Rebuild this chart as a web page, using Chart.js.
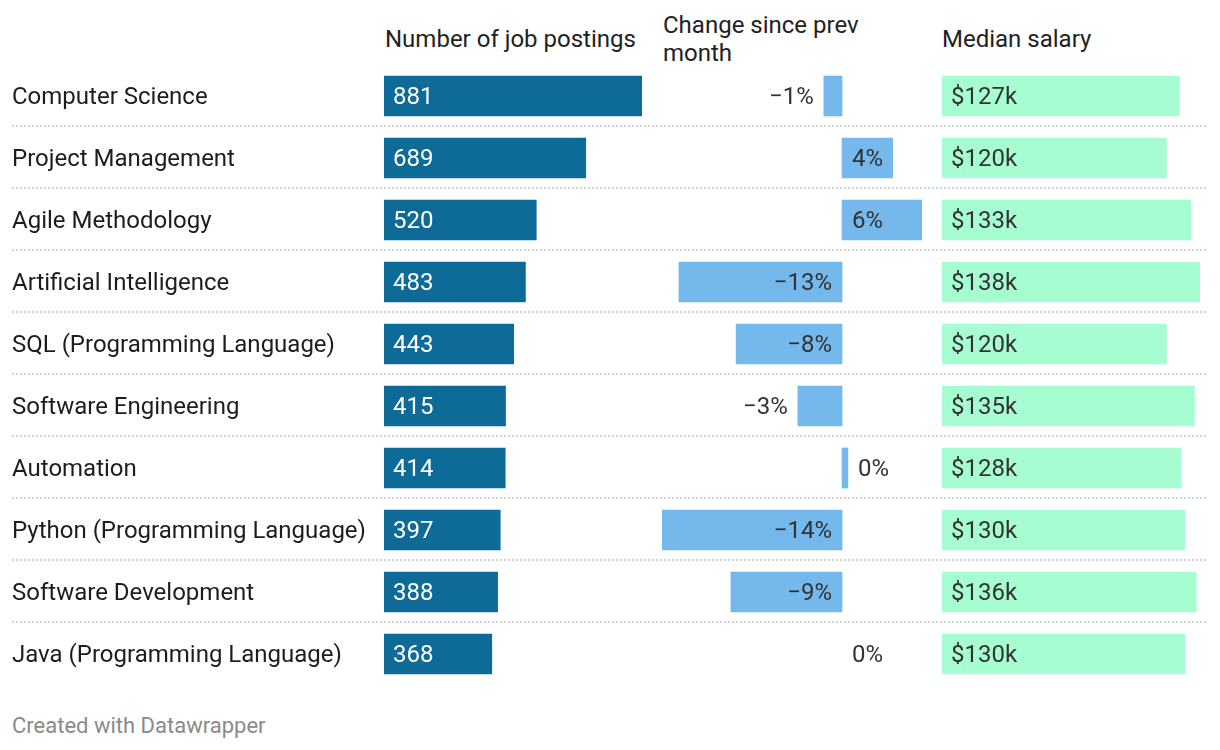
<!DOCTYPE html>
<html>
<head>
<meta charset="utf-8">
<script src="https://cdn.jsdelivr.net/npm/chart.js@4.4.1/dist/chart.umd.min.js"></script>
<style>
  html, body { margin: 0; padding: 0; background: #ffffff; }
  body { width: 1220px; height: 750px; position: relative; overflow: hidden; font-family: Roboto, "Noto Sans", sans-serif; }
  canvas { position: absolute; top: 0; }
  .hdr { position: absolute; font-size: 24px; line-height: 28px; color: #222222; white-space: nowrap; }
  #foot { position: absolute; left: 12px; top: 712px; font-size: 22px; line-height: 28px; color: #8a8a8a; }
</style>
</head>
<body>
<div class="hdr" style="left:385px; top:25px;">Number of job postings</div>
<div class="hdr" style="left:663px; top:11px;">Change since prev<br>month</div>
<div class="hdr" style="left:942px; top:25px;">Median salary</div>
<div id="foot">Created with Datawrapper</div>

<canvas id="cJobs" width="652" height="750" style="left:0px;"></canvas>
<canvas id="cChange" width="280" height="750" style="left:652px;"></canvas>
<canvas id="cSalary" width="288" height="750" style="left:932px;"></canvas>

<script>
// ---- data ----
const skills = [
  "Computer Science",
  "Project Management",
  "Agile Methodology",
  "Artificial Intelligence",
  "SQL (Programming Language)",
  "Software Engineering",
  "Automation",
  "Python (Programming Language)",
  "Software Development",
  "Java (Programming Language)"
];
const jobPostings = [881, 689, 520, 483, 443, 415, 414, 397, 388, 368];
const changePct = [-1.4, 3.9, 6.15, -12.55, -8.15, -3.4, 0.45, -13.85, -8.55, 0];
const medianSalaryK = [127, 120, 133, 138, 120, 135, 128, 130, 136, 130];

// ---- styling ----
const FONT = "Roboto, 'Noto Sans', sans-serif";
const ROW_TOP = 65, ROW_BOTTOM = 65;

const fmtJobs = v => String(v);
const fmtChange = v => { const r = Math.round(v); return (r < 0 ? "\u2212" + Math.abs(r) : String(Math.abs(r))) + "%"; };
const fmtSalary = v => "$" + v + "k";

const separatorPlugin = {
  id: "separators",
  beforeDatasetsDraw(chart, args, opts) {
    const y = chart.scales.y, ctx = chart.ctx;
    ctx.save();
    ctx.strokeStyle = "#d2d2d2";
    ctx.lineWidth = 2;
    ctx.setLineDash([2, 2]);
    for (let i = 0; i < chart.data.labels.length - 1; i++) {
      const yy = Math.round((y.getPixelForValue(i) + y.getPixelForValue(i + 1)) / 2) - 1;
      ctx.beginPath();
      ctx.moveTo(opts.x0, yy);
      ctx.lineTo(opts.x1, yy);
      ctx.stroke();
    }
    ctx.restore();
  }
};

const valueLabelPlugin = {
  id: "valueLabels",
  afterDatasetsDraw(chart, args, opts) {
    const ctx = chart.ctx;
    const meta = chart.getDatasetMeta(0);
    const vals = chart.data.datasets[0].data;
    ctx.save();
    ctx.font = "24px " + FONT;
    ctx.textBaseline = "middle";
    meta.data.forEach((bar, i) => {
      const txt = opts.format(vals[i]);
      const w = ctx.measureText(txt).width;
      const pad = 10;
      const yy = bar.y + 2;
      ctx.fillStyle = opts.color;
      if (opts.mode === "inside-left") {
        ctx.textAlign = "left";
        ctx.fillText(txt, bar.base + 9, yy);
      } else {
        const barW = Math.abs(bar.x - bar.base);
        const fits = w + 2 * pad <= barW + 1;
        if (vals[i] < 0) {
          ctx.textAlign = "right";
          ctx.fillText(txt, fits ? bar.base - pad : bar.x - pad, yy);
        } else {
          ctx.textAlign = "left";
          ctx.fillText(txt, fits ? bar.base + pad : bar.x + pad, yy);
        }
      }
    });
    ctx.restore();
  }
};

function makeChart(id, values, color, cfg) {
  return new Chart(document.getElementById(id), {
    type: "bar",
    data: {
      labels: skills,
      datasets: [{
        data: values,
        backgroundColor: ctx => (ctx.raw === 0 ? "rgba(0,0,0,0)" : color),
        borderWidth: 0,
        barThickness: 40
      }]
    },
    options: {
      indexAxis: "y",
      responsive: false,
      animation: false,
      events: [],
      layout: { padding: { left: cfg.padLeft, right: cfg.padRight, top: ROW_TOP, bottom: ROW_BOTTOM } },
      scales: {
        x: { type: "linear", min: cfg.min, max: cfg.max, display: false },
        y: {
          type: "category",
          display: cfg.showLabels,
          offset: true,
          grid: { display: false, drawTicks: false },
          border: { display: false },
          ticks: { color: "#1d1d1d", font: { family: FONT, size: 24 }, crossAlign: "far", padding: 0, labelOffset: 2 },
          afterFit: s => { if (cfg.showLabels) s.width = cfg.labelWidth; }
        }
      },
      plugins: {
        legend: { display: false },
        tooltip: { enabled: false },
        title: { display: false },
        separators: { x0: cfg.sepX0, x1: cfg.sepX1 },
        valueLabels: { format: cfg.format, color: cfg.labelColor, mode: cfg.mode }
      }
    },
    plugins: [separatorPlugin, valueLabelPlugin]
  });
}

makeChart("cJobs", jobPostings, "#0e6b98", {
  padLeft: 12, padRight: 10, showLabels: true, labelWidth: 372,
  min: 0, max: Math.max(...jobPostings),
  sepX0: 12, sepX1: 652, format: fmtJobs, labelColor: "#ffffff", mode: "inside-left"
});

makeChart("cChange", changePct, "#74b8ec", {
  padLeft: 10, padRight: 10, showLabels: false,
  min: Math.min(...changePct), max: Math.max(...changePct),
  sepX0: 0, sepX1: 280, format: fmtChange, labelColor: "#333333", mode: "diverging"
});

makeChart("cSalary", medianSalaryK, "#a7fdd2", {
  padLeft: 10, padRight: 20, showLabels: false,
  min: 0, max: Math.max(...medianSalaryK),
  sepX0: 0, sepX1: 276, format: fmtSalary, labelColor: "#333333", mode: "inside-left"
});
</script>
</body>
</html>
